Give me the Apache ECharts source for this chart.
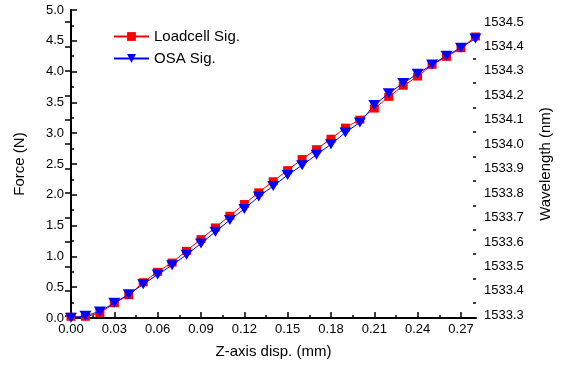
<!DOCTYPE html>
<html>
<head>
<meta charset="utf-8">
<script src="https://cdn.jsdelivr.net/npm/echarts@6/dist/echarts.min.js"></script>
<style>
  html, body { margin: 0; padding: 0; background: #fff; }
  #chart { width: 561px; height: 368px; }
</style>
</head>
<body>
<div id="chart"></div>
<script>
// Z-axis displacement (mm) for each sample
const displacement = [0.00, 0.01, 0.02, 0.03, 0.04, 0.05, 0.06, 0.07, 0.08, 0.09,
                      0.10, 0.11, 0.12, 0.13, 0.14, 0.15, 0.16, 0.17, 0.18, 0.19,
                      0.20, 0.21, 0.22, 0.23, 0.24, 0.25, 0.26, 0.27, 0.28];
// Load cell force (N)
const loadcellForce = [0.02, 0.02, 0.08, 0.24, 0.37, 0.58, 0.75, 0.90, 1.09, 1.28,
                       1.47, 1.66, 1.85, 2.04, 2.22, 2.40, 2.58, 2.74, 2.91, 3.09,
                       3.22, 3.40, 3.59, 3.77, 3.92, 4.11, 4.24, 4.38, 4.57];
// OSA peak wavelength (nm)
const osaWavelength = [1533.290, 1533.298, 1533.316, 1533.351, 1533.386, 1533.427, 1533.467, 1533.505, 1533.548, 1533.594,
                       1533.642, 1533.690, 1533.735, 1533.786, 1533.829, 1533.874, 1533.914, 1533.957, 1534.000, 1534.048,
                       1534.089, 1534.160, 1534.208, 1534.250, 1534.288, 1534.326, 1534.362, 1534.395, 1534.432];

// Axis tick values
const xMajorTicks = [0.00, 0.03, 0.06, 0.09, 0.12, 0.15, 0.18, 0.21, 0.24, 0.27];
const xMinorTicks = [0.015, 0.045, 0.075, 0.105, 0.135, 0.165, 0.195, 0.225, 0.255];
const wlMajorTicks = [1533.3, 1533.4, 1533.5, 1533.6, 1533.7, 1533.8, 1533.9,
                      1534.0, 1534.1, 1534.2, 1534.3, 1534.4, 1534.5];
const wlMinorTicks = [1533.35, 1533.45, 1533.55, 1533.65, 1533.75, 1533.85,
                      1533.95, 1534.05, 1534.15, 1534.25, 1534.35, 1534.45, 1534.55];

const X_RANGE = [0, 0.2804];
const WL_RANGE = [1533.289, 1534.549];

const FONT = 'Liberation Sans, Arial, sans-serif';
const INK = '#000';
const TRI_DOWN = 'path://M0,0 L10,0 L5,9 Z';
// negative lengths turn the ticks toward the plotting area
const MAJOR_LEN = -6;
const MINOR_LEN = -3;

const chart = echarts.init(document.getElementById('chart'), null, { renderer: 'canvas' });

const loadcellData = displacement.map((x, i) => [x, loadcellForce[i]]);
const osaData = displacement.map((x, i) => [x, osaWavelength[i]]);

const axisLine = { show: true, lineStyle: { color: INK, width: 2 } };
const tickStyle = { color: INK, width: 1.5 };

chart.setOption({
  animation: false,
  backgroundColor: '#fff',
  grid: { left: 71, right: 85, top: 10, bottom: 50, containLabel: false },
  legend: {
    left: 108, top: 24, orient: 'vertical',
    itemWidth: 35, itemHeight: 11, itemGap: 7,
    textStyle: { fontFamily: FONT, fontSize: 15, color: INK },
    data: ['Loadcell Sig.', 'OSA Sig.']
  },
  xAxis: [
    {
      type: 'value', position: 'bottom', min: X_RANGE[0], max: X_RANGE[1],
      name: 'Z-axis disp. (mm)', nameLocation: 'middle', nameGap: 26,
      nameTextStyle: { fontFamily: FONT, fontSize: 15, color: INK },
      axisLine: axisLine,
      axisTick: { show: true, inside: false, length: MAJOR_LEN, customValues: xMajorTicks, lineStyle: tickStyle },
      axisLabel: { customValues: xMajorTicks, formatter: v => v.toFixed(2), fontFamily: FONT, fontSize: 13, color: INK, margin: 5 },
      splitLine: { show: false }
    },
    {
      type: 'value', position: 'bottom', min: X_RANGE[0], max: X_RANGE[1],
      axisLine: { show: false },
      axisTick: { show: true, inside: false, length: MINOR_LEN, customValues: xMinorTicks, lineStyle: tickStyle },
      axisLabel: { show: false },
      splitLine: { show: false }
    }
  ],
  yAxis: [
    {
      type: 'value', position: 'left', min: 0, max: 5, interval: 0.5,
      name: 'Force (N)', nameLocation: 'middle', nameGap: 44,
      nameTextStyle: { fontFamily: FONT, fontSize: 15, color: INK },
      axisLine: axisLine,
      axisTick: { show: true, inside: false, length: MAJOR_LEN, lineStyle: tickStyle },
      minorTick: { show: true, splitNumber: 2, length: MINOR_LEN, lineStyle: tickStyle },
      axisLabel: { formatter: v => v.toFixed(1), fontFamily: FONT, fontSize: 13, color: INK, margin: 7 },
      splitLine: { show: false }
    },
    {
      type: 'value', position: 'right', min: WL_RANGE[0], max: WL_RANGE[1],
      name: 'Wavelength (nm)', nameLocation: 'middle', nameGap: 62,
      nameTextStyle: { fontFamily: FONT, fontSize: 15, color: INK },
      axisLine: axisLine,
      axisTick: { show: true, inside: false, length: MAJOR_LEN, customValues: wlMajorTicks, lineStyle: tickStyle },
      axisLabel: { customValues: wlMajorTicks, formatter: v => v.toFixed(1), fontFamily: FONT, fontSize: 13, color: INK, margin: 8 },
      splitLine: { show: false }
    },
    {
      type: 'value', position: 'right', min: WL_RANGE[0], max: WL_RANGE[1],
      axisLine: { show: false },
      axisTick: { show: true, inside: false, length: MINOR_LEN, customValues: wlMinorTicks, lineStyle: tickStyle },
      axisLabel: { show: false },
      splitLine: { show: false }
    }
  ],
  series: [
    {
      name: 'Loadcell Sig.', type: 'line', xAxisIndex: 0, yAxisIndex: 0,
      data: loadcellData,
      symbol: 'rect', symbolSize: [9, 8],
      lineStyle: { color: '#ff0000', width: 1 },
      itemStyle: { color: '#ff0000', borderWidth: 0 },
      z: 2
    },
    {
      name: 'OSA Sig.', type: 'line', xAxisIndex: 0, yAxisIndex: 1,
      data: osaData,
      symbol: TRI_DOWN, symbolSize: [12, 10],
      lineStyle: { color: '#0000ff', width: 1 },
      itemStyle: { color: '#0000ff', borderWidth: 0 },
      z: 3
    }
  ]
});
</script>
</body>
</html>
